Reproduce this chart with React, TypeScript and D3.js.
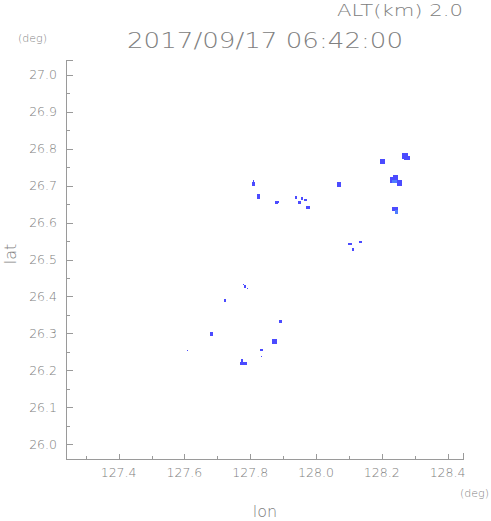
import React from 'react';
import * as d3 from 'd3';

// radar echo cells: [lonW, lonE, latS, latN, level]
const echoes: [number, number, number, number, number][] = [
  [127.808, 127.812, 26.711, 26.716, 1],
  [127.806, 127.815, 26.700, 26.711, 1],
  [127.821, 127.831, 26.665, 26.676, 1],
  [127.876, 127.885, 26.651, 26.659, 1],
  [127.885, 127.888, 26.654, 26.657, 1],
  [127.937, 127.943, 26.665, 26.673, 1],
  [127.937, 127.943, 26.657, 26.659, 1],
  [127.955, 127.961, 26.662, 26.670, 1],
  [127.946, 127.955, 26.649, 26.657, 1],
  [127.965, 127.974, 26.657, 26.665, 1],
  [127.971, 127.983, 26.638, 26.646, 1],
  [128.065, 128.077, 26.697, 26.711, 1],
  [128.105, 128.111, 26.595, 26.597, 1],
  [128.098, 128.108, 26.538, 26.546, 1],
  [128.108, 128.117, 26.524, 26.532, 1],
  [128.132, 128.141, 26.546, 26.551, 1],
  [128.196, 128.211, 26.759, 26.773, 1],
  [128.260, 128.281, 26.773, 26.789, 1],
  [128.269, 128.287, 26.768, 26.781, 1],
  [128.226, 128.250, 26.708, 26.722, 1],
  [128.235, 128.248, 26.722, 26.730, 1],
  [128.245, 128.260, 26.700, 26.716, 1],
  [128.232, 128.245, 26.708, 26.716, 2],
  [128.232, 128.250, 26.630, 26.641, 1],
  [128.241, 128.250, 26.624, 26.635, 2],
  [127.779, 127.782, 26.430, 26.435, 1],
  [127.782, 127.788, 26.424, 26.430, 1],
  [127.791, 127.794, 26.419, 26.424, 1],
  [127.721, 127.727, 26.386, 26.392, 1],
  [127.888, 127.898, 26.327, 26.335, 1],
  [127.678, 127.687, 26.292, 26.303, 1],
  [127.706, 127.712, 26.303, 26.305, 1],
  [127.867, 127.882, 26.270, 26.284, 1],
  [127.831, 127.840, 26.251, 26.259, 1],
  [127.834, 127.837, 26.235, 26.238, 1],
  [127.773, 127.779, 26.222, 26.232, 1],
  [127.770, 127.791, 26.214, 26.222, 1],
  [127.608, 127.611, 26.251, 26.254, 1],
];

const lonDomain = [127.24, 128.45];
const latDomain = [25.96, 27.04];
const lonTicks = [127.4, 127.6, 127.8, 128.0, 128.2, 128.4];
const lonMinor = [127.3, 127.5, 127.7, 127.9, 128.1, 128.3];
const latTicks = [26.0, 26.1, 26.2, 26.3, 26.4, 26.5, 26.6, 26.7, 26.8, 26.9, 27.0];
const latMinor = [26.05, 26.15, 26.25, 26.35, 26.45, 26.55, 26.65, 26.75, 26.85, 26.95];
const timeLabel = '2017/09/17 06:42:00';
const altLabel = 'ALT(km) 2.0';

const levelColor = ['#ffffff', '#4b4bff', '#4f7dff'];

export default function App() {
  const left = 66, right = 464, top = 60, bottom = 459;
  const x = d3.scaleLinear().domain(lonDomain).range([left, right]);
  const y = d3.scaleLinear().domain(latDomain).range([bottom, top]);
  const font = '"DejaVu Sans", sans-serif';
  const txt = '#808080';
  const axis = '#9a9a9a';

  return (
    <svg width={491} height={521} style={{position: 'absolute', left: 0, top: 0, background: '#fff'}}
      fontFamily={font} fontWeight={200}>
      <text x={463} y={16} textAnchor="end" fontSize={15.5} fill={txt} textLength={126} lengthAdjust="spacingAndGlyphs">{altLabel}</text>
      <text x={127} y={48} fontSize={21} fill={txt} textLength={276} lengthAdjust="spacingAndGlyphs">{timeLabel}</text>
      <text x={18} y={42} fontSize={11} fill={txt}>(deg)</text>

      {echoes.map((e, i) => (
        <rect key={i} x={x(e[0])} y={y(e[3])} width={x(e[1]) - x(e[0])} height={y(e[2]) - y(e[3])}
          fill={levelColor[e[4]]} shapeRendering="crispEdges" />
      ))}

      <g stroke={axis} strokeWidth={1} shapeRendering="crispEdges">
        <line x1={left + 0.5} x2={left + 0.5} y1={top} y2={bottom} />
        <line x1={left} x2={right} y1={bottom + 0.5} y2={bottom + 0.5} />
        <line x1={left} x2={left + 7} y1={top + 0.5} y2={top + 0.5} />
        <line x1={right - 0.5} x2={right - 0.5} y1={bottom} y2={bottom - 6} />
        {latTicks.map(t => <line key={'ly' + t} x1={left} x2={left + 7} y1={Math.round(y(t)) + 0.5} y2={Math.round(y(t)) + 0.5} />)}
        {latMinor.map(t => <line key={'my' + t} x1={left} x2={left + 4} y1={Math.round(y(t)) + 0.5} y2={Math.round(y(t)) + 0.5} />)}
        {lonTicks.map(t => <line key={'lx' + t} y1={bottom} y2={bottom - 5} x1={Math.round(x(t)) + 0.5} x2={Math.round(x(t)) + 0.5} />)}
        {lonMinor.map(t => <line key={'mx' + t} y1={bottom} y2={bottom - 3} x1={Math.round(x(t)) + 0.5} x2={Math.round(x(t)) + 0.5} />)}
      </g>

      {latTicks.map(t => (
        <text key={'ty' + t} x={57} y={y(t)} dy="0.36em" textAnchor="end" fontSize={12.5} fill={txt}>{t.toFixed(1)}</text>
      ))}
      {lonTicks.map(t => (
        <text key={'tx' + t} x={x(t)} y={477} textAnchor="middle" fontSize={12.5} fill={txt}>{t.toFixed(1)}</text>
      ))}
      <text x={489} y={497} textAnchor="end" fontSize={11} fill={txt}>(deg)</text>
      <text x={265} y={517} textAnchor="middle" fontSize={16} fill={txt}>lon</text>
      <text transform="translate(16,254) rotate(-90)" textAnchor="middle" fontSize={16} fill={txt}>lat</text>
    </svg>
  );
}
